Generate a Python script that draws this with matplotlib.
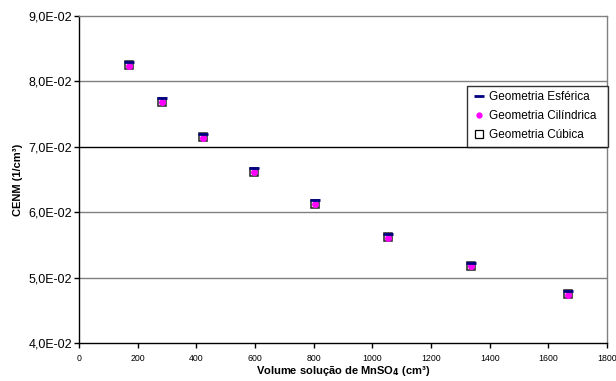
import matplotlib
matplotlib.use("Agg")
import matplotlib.pyplot as plt
from matplotlib.lines import Line2D

plt.rcParams['font.family'] = ['Liberation Sans', 'DejaVu Sans']

volume = [170, 283, 424, 597, 805, 1052, 1337, 1667]
esferica = [0.0830, 0.0774, 0.0720, 0.0667, 0.0618, 0.0567, 0.0523, 0.0480]
cilindrica = [0.0824, 0.0768, 0.0714, 0.0661, 0.0612, 0.0561, 0.0517, 0.0474]
cubica = [0.0825, 0.0769, 0.0715, 0.0662, 0.0613, 0.0562, 0.0518, 0.0475]

y_ticks = [0.04, 0.05, 0.06, 0.07, 0.08, 0.09]
y_tick_labels = ["4,0E-02", "5,0E-02", "6,0E-02", "7,0E-02", "8,0E-02", "9,0E-02"]
x_ticks = [0, 200, 400, 600, 800, 1000, 1200, 1400, 1600, 1800]
x_tick_labels = [str(v) for v in x_ticks]

fig = plt.figure(figsize=(6.16, 3.81), dpi=100)
ax = fig.add_axes([79/616, 1 - 343/381, 528/616, 327/381])

ax.set_xlim(0, 1800)
ax.set_ylim(0.04, 0.09)

for yv in y_ticks[1:-1]:
    ax.axhline(yv, color='#000000' if abs(yv - 0.07) < 1e-9 else '#808080', lw=1, zorder=1)

ax.plot(volume, cubica, linestyle='none', marker='s', markersize=5.8,
        markerfacecolor='white', markeredgecolor='#222222', markeredgewidth=1.1, zorder=3)
ax.plot(volume, cilindrica, linestyle='none', marker='o', markersize=4.0,
        markerfacecolor='#FF00FF', markeredgecolor='#FF00FF', zorder=4)
ax.plot(volume, esferica, linestyle='none', marker='_', markersize=6.5,
        markeredgewidth=2.0, color='#000080', zorder=5)

ax.set_yticks(y_ticks)
ax.set_yticklabels(y_tick_labels, fontsize=9)
ax.set_xticks(x_ticks)
ax.set_xticklabels(x_tick_labels, fontsize=6.3)
ax.tick_params(axis='both', direction='out', length=3.6, width=1, color='black', pad=1.5)
ax.tick_params(axis='x', pad=4)

for s in ['left', 'bottom']:
    ax.spines[s].set_color('black')
    ax.spines[s].set_linewidth(1)
for s in ['right', 'top']:
    ax.spines[s].set_color('#808080')
    ax.spines[s].set_linewidth(1)

ax.set_ylabel("CENM (1/cm³)", fontsize=8, fontweight='bold', labelpad=4)
ax.set_xlabel("Volume solução de MnSO$_\\mathbf{4}$ (cm³)", fontsize=8, fontweight='bold')
ax.xaxis.set_label_coords(0.5, -(371 - 343) / 327)
ax.xaxis.label.set_va('center')

handles = [
    Line2D([], [], linestyle='none', marker='_', markersize=6.5, markeredgewidth=2, color='#000080'),
    Line2D([], [], linestyle='none', marker='o', markersize=3.5, markerfacecolor='#FF00FF', markeredgecolor='#FF00FF'),
    Line2D([], [], linestyle='none', marker='s', markersize=5.5, markerfacecolor='white', markeredgecolor='black', markeredgewidth=0.9),
]
labels = ["Geometria Esférica", "Geometria Cilíndrica", "Geometria Cúbica"]
leg = fig.legend(handles, labels, loc='upper left',
                 bbox_to_anchor=(467/616, 1 - 147/381, 140.5/616, 61/381), mode='expand',
                 fontsize=8.5, frameon=True, fancybox=False, handlelength=1.2,
                 handletextpad=0.25, borderpad=0.45, labelspacing=0.6, borderaxespad=0)
leg.get_frame().set_edgecolor('black')
leg.get_frame().set_linewidth(1)
leg.set_zorder(10)

fig.savefig("out.png", dpi=100)
